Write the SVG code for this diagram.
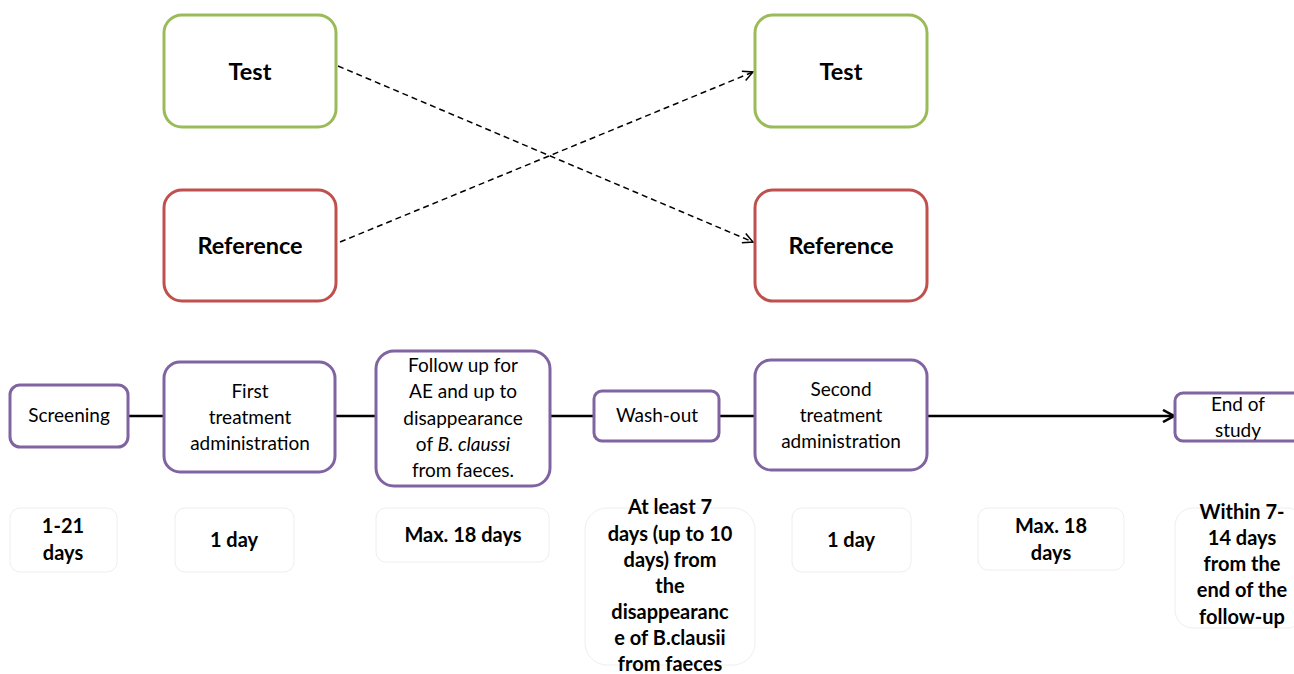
<svg xmlns="http://www.w3.org/2000/svg" width="1294" height="674" viewBox="0 0 1294 674">
<style>
.t{font-family:Lato,"Liberation Sans",sans-serif;font-size:19px;fill:#000;text-anchor:middle}
.b{font-weight:bold;font-size:20px}
.big{font-size:23.5px;font-weight:bold}
.g{fill:#fff;stroke:#9BBB59;stroke-width:3}
.r{fill:#fff;stroke:#C0504D;stroke-width:3}
.p{fill:#fff;stroke:#8064A2;stroke-width:3}
.f{fill:#fff;stroke:#eeeeee;stroke-width:1}
.c{stroke:#000;stroke-width:2.5;fill:none}
.d{stroke:#000;stroke-width:1.5;fill:none;stroke-dasharray:6 4}
</style>
<defs>
<marker id="oa" viewBox="0 0 12 12" refX="11" refY="6" markerWidth="12" markerHeight="12" markerUnits="userSpaceOnUse" orient="auto">
<path d="M1,1 L11,6 L1,11" fill="none" stroke="#000" stroke-width="1.5"/>
</marker>
<marker id="sa" viewBox="0 0 14 14" refX="13" refY="7" markerWidth="14" markerHeight="14" markerUnits="userSpaceOnUse" orient="auto">
<path d="M2,1 L13,7 L2,13" fill="none" stroke="#000" stroke-width="2.5"/>
</marker>
</defs>
<rect width="1294" height="674" fill="#fff"/>
<g id="connectors">
<line class="d" x1="338" y1="66" x2="753" y2="242" marker-end="url(#oa)"/>
<line class="d" x1="340" y1="242" x2="753" y2="72" marker-end="url(#oa)"/>
<line class="c" x1="128" y1="416" x2="164" y2="416"/>
<line class="c" x1="335" y1="416" x2="376" y2="416"/>
<line class="c" x1="550" y1="416" x2="594" y2="416"/>
<line class="c" x1="719" y1="416" x2="755" y2="416"/>
<line class="c" x1="927" y1="416" x2="1174" y2="416" marker-end="url(#sa)"/>
</g>
<g id="test1"><rect class="g" x="164" y="15" width="172" height="112" rx="18"/><text class="t big" x="250" y="80">Test</text></g>
<g id="ref1"><rect class="r" x="164" y="190" width="172" height="111" rx="18"/><text class="t big" x="250" y="254">Reference</text></g>
<g id="test2"><rect class="g" x="755" y="15" width="172" height="112" rx="18"/><text class="t big" x="841" y="80">Test</text></g>
<g id="ref2"><rect class="r" x="755" y="190" width="172" height="111" rx="18"/><text class="t big" x="841" y="254">Reference</text></g>
<g id="screening"><rect class="p" x="10" y="385" width="118" height="62" rx="10"/><text class="t" x="69" y="422">Screening</text></g>
<g id="first"><rect class="p" x="164" y="362" width="171" height="110" rx="16"/>
<text class="t" x="250" y="398">First</text><text class="t" x="250" y="424">treatment</text><text class="t" x="250" y="450">administration</text></g>
<g id="followup"><rect class="p" x="376" y="351" width="174" height="135" rx="18"/>
<text class="t" x="463" y="372">Follow up for</text><text class="t" x="463" y="398">AE and up to</text><text class="t" x="463" y="425">disappearance</text><text class="t" x="463" y="451">of <tspan font-style="italic">B. claussi</tspan></text><text class="t" x="463" y="477">from faeces.</text></g>
<g id="washout"><rect class="p" x="594" y="391" width="125" height="50" rx="8"/><text class="t" x="657" y="422">Wash-out</text></g>
<g id="second"><rect class="p" x="755" y="360" width="172" height="110" rx="16"/>
<text class="t" x="841" y="396">Second</text><text class="t" x="841" y="422">treatment</text><text class="t" x="841" y="448">administration</text></g>
<g id="end"><rect class="p" x="1175" y="393" width="130" height="48" rx="8"/>
<text class="t" x="1238" y="411">End of</text><text class="t" x="1238" y="437">study</text></g>
<g id="d1"><rect class="f" x="10" y="508" width="107" height="64" rx="10"/><text class="t b" x="63" y="533">1-21</text><text class="t b" x="63" y="560">days</text></g>
<g id="d2"><rect class="f" x="175" y="508" width="119" height="64" rx="10"/><text class="t b" x="234" y="547">1 day</text></g>
<g id="d3"><rect class="f" x="376" y="508" width="173" height="54" rx="10"/><text class="t b" x="463" y="542">Max. 18 days</text></g>
<g id="d4"><rect class="f" x="585" y="508" width="170" height="157" rx="22"/>
<text class="t b" x="670" y="514">At least 7</text><text class="t b" x="670" y="541">days (up to 10</text><text class="t b" x="670" y="567">days) from</text><text class="t b" x="670" y="593">the</text><text class="t b" x="670" y="619">disappearanc</text><text class="t b" x="670" y="645">e of B.clausii</text><text class="t b" x="670" y="671">from faeces</text></g>
<g id="d5"><rect class="f" x="792" y="508" width="119" height="64" rx="10"/><text class="t b" x="851" y="547">1 day</text></g>
<g id="d6"><rect class="f" x="978" y="508" width="146" height="62" rx="10"/><text class="t b" x="1051" y="533">Max. 18</text><text class="t b" x="1051" y="560">days</text></g>
<g id="d7"><rect class="f" x="1175" y="508" width="130" height="120" rx="18"/>
<text class="t b" x="1242" y="519">Within 7-</text><text class="t b" x="1242" y="545">14 days</text><text class="t b" x="1242" y="571">from the</text><text class="t b" x="1242" y="597">end of the</text><text class="t b" x="1242" y="624">follow-up</text></g>
</svg>
